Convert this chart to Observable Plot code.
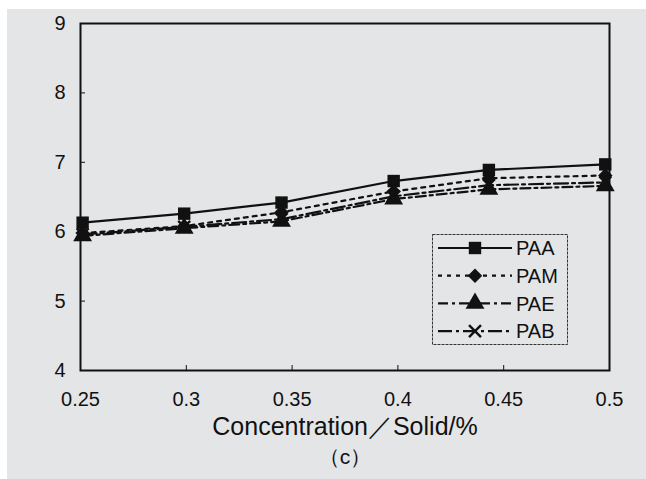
<!DOCTYPE html>
<html>
<head>
<meta charset="utf-8">
<script src="https://cdn.jsdelivr.net/npm/d3@7"></script>
<script src="https://cdn.jsdelivr.net/npm/@observablehq/plot@0.6"></script>
<style>
  html, body { margin: 0; padding: 0; background: #ffffff; }
  body { width: 646px; height: 479px; overflow: hidden; position: relative; font-family: "Liberation Sans", Arial, sans-serif; }
  #wrap { position: absolute; left: 7px; top: 9px; width: 639px; height: 470px; background: #e4e5e7; }
  #wrap svg { display: block; }
  #legend { position: absolute; left: 425px; top: 225px; }
</style>
</head>
<body>
<div id="wrap"><div id="chart"></div><div id="legend"></div></div>
<script>
// ---- data ----
const concentration = [0.251, 0.299, 0.345, 0.398, 0.443, 0.498];
const seriesNames = ["PAA", "PAM", "PAE", "PAB"];
const paa = [6.13, 6.26, 6.42, 6.73, 6.89, 6.97];
const pam = [5.98, 6.08, 6.28, 6.58, 6.77, 6.81];
const pae = [5.94, 6.05, 6.15, 6.47, 6.61, 6.66];
const pab = [5.96, 6.07, 6.18, 6.51, 6.67, 6.71];
const xTicks = [0.25, 0.3, 0.35, 0.4, 0.45, 0.5];
const xTickLabels = ["0.25", "0.3", "0.35", "0.4", "0.45", "0.5"];
const yTicks = [4, 5, 6, 7, 8, 9];
const yTickLabels = ["4", "5", "6", "7", "8", "9"];
const xLabel = "Concentration／Solid/%";
const panelLabel = "（c）";

// ---- styles ----
const ink = "#111111";
const narrow = "'Liberation Sans Narrow', 'Arial Narrow', 'Liberation Sans', Arial, sans-serif";
const styles = {
  PAA: {dash: null, symbol: "square", r: 7, filled: true},
  PAM: {dash: "4,5", symbol: "diamond2", r: 6.5, filled: true},
  PAE: {dash: "10,4,3,4", symbol: "triangle", r: 7, filled: true},
  PAB: {dash: "14,4,3,4", symbol: "times", r: 5.5, filled: false}
};

const values = {PAA: paa, PAM: pam, PAE: pae, PAB: pab};
const rows = seriesNames.flatMap(name => concentration.map((c, j) => ({series: name, x: c, y: values[name][j]})));

const marks = [];
for (const name of seriesNames) {
  const s = styles[name];
  const data = rows.filter(d => d.series === name);
  marks.push(Plot.line(data, {x: "x", y: "y", stroke: ink, strokeWidth: 2.2, strokeDasharray: s.dash}));
}
for (const name of seriesNames) {
  const s = styles[name];
  const data = rows.filter(d => d.series === name);
  marks.push(Plot.dot(data, s.filled
    ? {x: "x", y: "y", symbol: s.symbol, r: s.r, fill: ink, stroke: "none"}
    : {x: "x", y: "y", symbol: s.symbol, r: s.r, fill: "none", stroke: ink, strokeWidth: 2.4}));
}

const chart = Plot.plot({
  width: 639,
  height: 470,
  marginLeft: 73,
  marginRight: 37,
  marginTop: 14,
  marginBottom: 109,
  style: {background: "transparent", fontFamily: narrow, color: ink, overflow: "visible"},
  x: {domain: [0.25, 0.5]},
  y: {domain: [4, 9]},
  marks: [
    Plot.axisX(xTicks, {tickSize: -5, tickPadding: 26, fontSize: 20, tickFormat: d => xTickLabels[xTicks.indexOf(d)], label: null, stroke: ink}),
    Plot.axisY(yTicks, {tickSize: -5, tickPadding: 20, fontSize: 20, tickFormat: d => yTickLabels[yTicks.indexOf(d)], label: null, stroke: ink}),
    ...marks,
    Plot.frame({stroke: ink, strokeWidth: 2}),
    Plot.text([xLabel], {text: d => d, frameAnchor: "bottom", dy: 64, fontSize: 25, fill: ink}),
    Plot.text([panelLabel], {text: d => d, frameAnchor: "bottom", dy: 93, fontSize: 21, fill: ink})
  ]
});
document.getElementById("chart").appendChild(chart);

// ---- legend ----
const lw = 136, lh = 111;
const lsvg = d3.select("#legend").append("svg").attr("width", lw).attr("height", lh)
  .style("font-family", narrow);
lsvg.append("rect").attr("x", 0.5).attr("y", 0.5).attr("width", lw - 1).attr("height", lh - 1)
  .attr("fill", "#e4e5e7").attr("stroke", "#333").attr("stroke-width", 1).attr("stroke-dasharray", "3,1");
const symbolMap = {square: d3.symbolSquare, diamond2: d3.symbolDiamond2, triangle: d3.symbolTriangle, times: d3.symbolTimes};
seriesNames.forEach((name, i) => {
  const s = styles[name];
  const cy = 14 + i * 27.7;
  const g = lsvg.append("g");
  g.append("line").attr("x1", 6).attr("x2", 80).attr("y1", cy).attr("y2", cy)
    .attr("stroke", ink).attr("stroke-width", 2.2)
    .attr("stroke-dasharray", s.dash);
  const size = Math.PI * s.r * s.r;
  g.append("path").attr("d", d3.symbol(symbolMap[s.symbol], size)())
    .attr("transform", `translate(43,${cy})`)
    .attr("fill", s.filled ? ink : "none").attr("stroke", s.filled ? "none" : ink).attr("stroke-width", 2.4);
  g.append("text").attr("x", 84).attr("y", cy).attr("dy", "0.36em").attr("font-size", 20).attr("fill", ink).text(name);
});
</script>
</body>
</html>
